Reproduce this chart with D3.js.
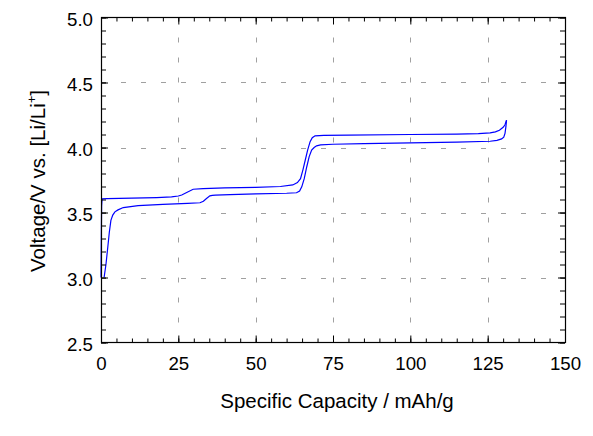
<!DOCTYPE html>
<html>
<head>
<meta charset="utf-8">
<script src="https://cdn.jsdelivr.net/npm/d3@7/dist/d3.min.js"></script>
<style>
  html, body { margin: 0; padding: 0; background: #fff; }
  svg { display: block; font-family: "Liberation Sans", Arial, sans-serif; }
</style>
</head>
<body>
<svg id="chart" width="593" height="436"></svg>
<script>
// ---- data ----
const chargeCapacity = [0, 0.1, 0.2, 0.35, 2, 10, 18, 22.8, 25, 26.1, 27.7, 29.8, 33, 40, 50, 58, 62, 63.5, 64.5, 65.3, 66, 66.8, 67.6, 68.3, 69.2, 72, 80, 100, 115, 122, 125.8, 127.5, 128.8, 130, 130.6, 131.1];
const chargeVoltage  = [3.0, 3.3, 3.55, 3.605, 3.607, 3.61, 3.615, 3.62, 3.627, 3.635, 3.654, 3.679, 3.684, 3.689, 3.693, 3.70, 3.712, 3.73, 3.76, 3.83, 3.90, 3.98, 4.045, 4.075, 4.09, 4.093, 4.095, 4.10, 4.103, 4.106, 4.112, 4.12, 4.133, 4.155, 4.175, 4.21];

const dischargeCapacity = [131.1, 130.9, 130.6, 130.2, 129.5, 128, 125.8, 115, 100, 85, 75, 71, 69.7, 68.9, 68.1, 67.3, 66.5, 65.7, 64.9, 64.2, 63.2, 60, 50, 41.7, 37, 36, 35.2, 34.2, 33.1, 32, 28, 20, 12, 7.2, 5.5, 4.5, 3.8, 3.2, 2.7, 2.2, 1.6, 1.0];
const dischargeVoltage  = [4.21, 4.16, 4.108, 4.08, 4.066, 4.055, 4.048, 4.042, 4.035, 4.03, 4.025, 4.02, 4.013, 4.0, 3.98, 3.93, 3.85, 3.76, 3.697, 3.665, 3.652, 3.648, 3.644, 3.638, 3.634, 3.632, 3.628, 3.61, 3.587, 3.575, 3.57, 3.562, 3.553, 3.538, 3.52, 3.505, 3.48, 3.44, 3.35, 3.235, 3.1, 3.0];

const xTicks = [0, 25, 50, 75, 100, 125, 150];
const yTicks = [2.5, 3.0, 3.5, 4.0, 4.5, 5.0];
const xTitle = "Specific Capacity / mAh/g";

// ---- layout ----
const svg = d3.select("#chart");
const pL = 101, pR = 565, pT = 17.5, pB = 342.5;
const x = d3.scaleLinear().domain([0, 150]).range([pL, pR]);
const y = d3.scaleLinear().domain([2.5, 5.0]).range([pB, pT]);

const xMinor = d3.range(0, 150.01, 5);
const yMinor = d3.range(25, 50.01, 1).map(v => v / 10);

// gridlines
const grid = svg.append("g").attr("stroke", "#a0a0a0").attr("stroke-width", 1)
  .attr("stroke-dasharray", "5,15").attr("fill", "none");
xTicks.filter(t => t > 0 && t < 150).forEach(t => {
  grid.append("line").attr("x1", Math.round(x(t)) + 0.5).attr("x2", Math.round(x(t)) + 0.5)
    .attr("y1", pB).attr("y2", pT);
});
yTicks.filter(t => t > 2.5 && t < 5.0).forEach(t => {
  grid.append("line").attr("y1", Math.round(y(t)) + 0.5).attr("y2", Math.round(y(t)) + 0.5)
    .attr("x1", pL).attr("x2", pR);
});

// curves
const lineGen = d3.line().x(d => x(d[0])).y(d => y(d[1])).curve(d3.curveLinear);
const charge = chargeCapacity.map((c, i) => [c, chargeVoltage[i]]);
const discharge = dischargeCapacity.map((c, i) => [c, dischargeVoltage[i]]);
svg.append("path").attr("d", lineGen(charge)).attr("fill", "none")
  .attr("stroke", "#0000ff").attr("stroke-width", 1.2);
svg.append("path").attr("d", lineGen(discharge)).attr("fill", "none")
  .attr("stroke", "#0000ff").attr("stroke-width", 1.2);

// axes (ticks inward on all sides)
const fmtY = d3.format(".1f");
function addAxis(axis, tr) {
  const g = svg.append("g").attr("transform", tr).call(axis);
  g.selectAll(".domain").remove();
  g.selectAll("line").attr("stroke", "#000");
  return g;
}
// minor ticks
addAxis(d3.axisBottom(x).tickValues(xMinor).tickSize(-4).tickFormat(""), `translate(0,${pB})`);
addAxis(d3.axisTop(x).tickValues(xMinor).tickSize(-4).tickFormat(""), `translate(0,${pT})`);
addAxis(d3.axisLeft(y).tickValues(yMinor).tickSize(-5).tickFormat(""), `translate(${pL},0)`);
addAxis(d3.axisRight(y).tickValues(yMinor).tickSize(-5).tickFormat(""), `translate(${pR},0)`);
// major ticks with labels
const gx = addAxis(d3.axisBottom(x).tickValues(xTicks).tickSize(-7).tickPadding(0).tickFormat(d3.format("d")), `translate(0,${pB})`);
gx.selectAll("text").attr("y", 27).attr("dy", 0).attr("font-size", "18.7px")
  .attr("font-family", "Liberation Sans, Arial, sans-serif").attr("fill", "#000");
addAxis(d3.axisTop(x).tickValues(xTicks).tickSize(-7).tickFormat(""), `translate(0,${pT})`);
const gy = addAxis(d3.axisLeft(y).tickValues(yTicks).tickSize(-7).tickFormat(fmtY), `translate(${pL},0)`);
gy.selectAll("text").attr("x", -8).attr("dy", 0).attr("y", 8).attr("font-size", "18.7px")
  .attr("font-family", "Liberation Sans, Arial, sans-serif").attr("fill", "#000");
addAxis(d3.axisRight(y).tickValues(yTicks).tickSize(-7).tickFormat(""), `translate(${pR},0)`);

// frame
svg.append("rect").attr("x", pL + 0.5).attr("y", pT).attr("width", pR - pL).attr("height", pB - pT)
  .attr("fill", "none").attr("stroke", "#000").attr("stroke-width", 1.2);

// titles
svg.append("text").attr("x", 337).attr("y", 408).attr("text-anchor", "middle")
  .attr("font-size", "20.5px").attr("fill", "#000").text(xTitle);

const yt = svg.append("text").attr("transform", `translate(45,181) rotate(-90)`)
  .attr("text-anchor", "middle").attr("font-size", "20.5px").attr("fill", "#000");
yt.append("tspan").text("Voltage/V vs. [Li/Li");
yt.append("tspan").attr("font-size", "13px").attr("dy", -9).text("+");
yt.append("tspan").attr("dy", 9).text("]");
</script>
</body>
</html>
